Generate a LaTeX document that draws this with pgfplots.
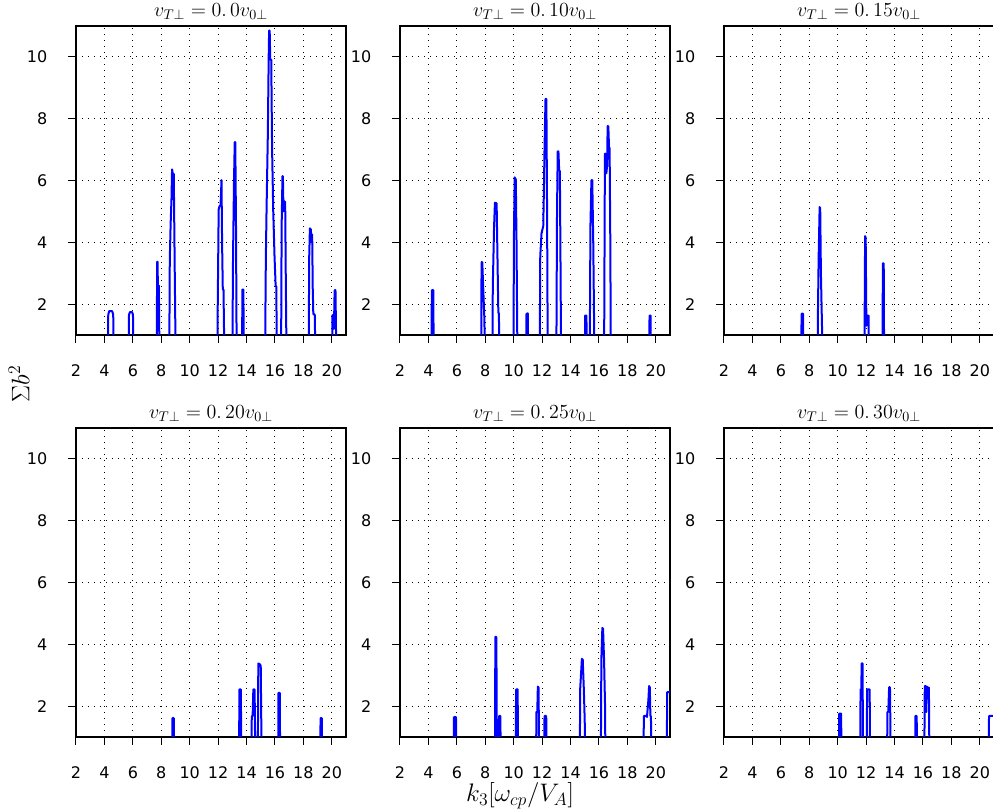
\RequirePackage{fix-cm}
\documentclass[border=0pt]{standalone}
\usepackage[no-math]{fontspec}
\setmainfont{DejaVu Sans}
\usepackage{pgfplots}
\pgfplotsset{compat=1.18}
\usepgfplotslibrary{groupplots}

\pgfplotsset{
  peak/.style={color={rgb,255:red,0;green,0;blue,255}, line width=1.5pt, line join=round, mark=none},
  every axis title/.style={at={(0.5,1)}, anchor=base, yshift=6.75pt, font=\fontsize{15}{17}\selectfont},
}

\begin{document}
\begin{tikzpicture}
\begin{groupplot}[
  group style={group name=G, group size=3 by 2,
    horizontal sep=40.5pt, vertical sep=69.75pt},
  scale only axis, width=202.5pt, height=231.75pt,
  xmin=2, xmax=21, ymin=1, ymax=11,
  xtick={2,4,...,20}, ytick={2,4,...,10},
  grid=major,
  major grid style={black, line width=0.75pt, dash pattern=on 0.75pt off 3.75pt},
  axis line style={line width=1.5pt},
  tick align=outside, tick pos=left, major tick length=6pt,
  tick style={line width=0.75pt, black},
  ticklabel style={font=\fontsize{12}{14}\selectfont},
  xticklabel style={yshift=-13pt},
  yticklabel style={xshift=-12pt},
  /pgf/number format/assume math mode=true,
  clip=true,
]
% v_T = 0.0
\nextgroupplot[title={$v_{T\perp}=0.\,0v_{0\perp}$}]
\addplot[peak] coordinates {
 (4.24,0) (4.27,1.65) (4.33,1.77) (4.55,1.77) (4.62,1.65) (4.65,0)
 (5.70,0) (5.73,1.65) (5.79,1.74) (5.95,1.74) (6.01,1.65) (6.04,0)
 (7.68,0) (7.71,3.37) (7.74,3.37) (7.77,2.3) (7.80,2.6) (7.83,2.6) (7.88,0)
 (8.56,0) (8.60,3.44) (8.66,4.6) (8.72,5.4) (8.76,6.36) (8.79,6.3) (8.81,5.4) (8.84,6.23) (8.88,6.2) (8.95,3.0) (9.02,0)
 (11.94,0) (11.97,1.72) (12.04,5.06) (12.10,5.17) (12.17,5.2) (12.20,5.5) (12.24,6.01) (12.28,4.0) (12.33,2.47) (12.38,2.47) (12.45,0)
 (13.00,0) (13.05,3.5) (13.12,6.0) (13.17,7.24) (13.21,7.24) (13.26,4.5) (13.31,0)
 (13.68,0) (13.71,2.47) (13.78,2.47) (13.81,0)
 (15.30,0) (15.36,3.5) (15.41,5.06) (15.50,7.5) (15.56,10.0) (15.59,10.85) (15.63,10.85) (15.67,9.91) (15.74,9.91) (15.80,7.0) (15.88,5.0) (15.97,3.55) (16.05,2.58) (16.10,2.58) (16.13,0)
 (16.43,0) (16.47,4.5) (16.53,6.14) (16.56,6.14) (16.60,5.0) (16.64,5.33) (16.72,5.3) (16.76,3.0) (16.82,0)
 (18.37,0) (18.41,3.5) (18.46,4.45) (18.53,4.41) (18.57,4.0) (18.62,4.25) (18.66,2.5) (18.70,1.67) (18.80,1.67) (18.86,0)
 (20.02,0) (20.05,1.64) (20.12,1.64) (20.15,1.2) (20.20,2.45) (20.26,2.45) (20.33,0)
};
% v_T = 0.10
\nextgroupplot[title={$v_{T\perp}=0.\,10v_{0\perp}$}]
\addplot[peak] coordinates {
 (4.21,0) (4.24,2.45) (4.34,2.45) (4.38,0)
 (7.71,0) (7.74,3.36) (7.79,3.36) (7.85,2.6) (7.94,1.5) (7.98,0)
 (8.50,0) (8.53,2.58) (8.62,4.5) (8.68,5.28) (8.80,5.26) (8.86,3.5) (8.92,1.72) (8.96,1.7) (9.00,0)
 (9.98,0) (10.02,4.3) (10.07,6.1) (10.15,6.03) (10.20,4.0) (10.27,0)
 (10.87,0) (10.90,1.68) (10.99,1.7) (11.03,0)
 (11.83,0) (11.87,3.55) (11.96,4.3) (12.08,4.52) (12.12,5.5) (12.17,7.0) (12.24,8.64) (12.30,8.64) (12.35,5.0) (12.40,0)
 (13.00,0) (13.05,5.0) (13.10,6.94) (13.15,6.94) (13.20,6.33) (13.25,6.3) (13.30,3.0) (13.34,0)
 (15.00,0) (15.03,1.63) (15.12,1.63) (15.15,0)
 (15.35,0) (15.40,4.5) (15.47,6.01) (15.53,6.01) (15.60,4.0) (15.69,0)
 (16.36,0) (16.42,6.87) (16.46,6.87) (16.52,6.23) (16.58,6.5) (16.61,7.76) (16.66,7.76) (16.71,7.06) (16.75,7.06) (16.80,4.0) (16.84,0)
 (19.53,0) (19.56,1.63) (19.63,1.63) (19.66,0)
};
% v_T = 0.15
\nextgroupplot[title={$v_{T\perp}=0.\,15v_{0\perp}$}]
\addplot[peak] coordinates {
 (7.43,0) (7.46,1.69) (7.56,1.69) (7.59,0)
 (8.58,0) (8.61,1.69) (8.66,3.5) (8.73,5.14) (8.77,5.1) (8.82,3.0) (8.90,1.2) (8.93,0)
 (11.88,0) (11.93,4.2) (11.97,4.15) (12.02,1.3) (12.08,1.63) (12.17,1.63) (12.21,0)
 (13.15,0) (13.18,3.32) (13.24,3.32) (13.27,0)
};
% v_T = 0.20
\nextgroupplot[title={$v_{T\perp}=0.\,20v_{0\perp}$}]
\addplot[peak] coordinates {
 (8.76,0) (8.79,1.61) (8.88,1.61) (8.91,0)
 (13.47,0) (13.50,2.54) (13.60,2.54) (13.64,0)
 (14.34,0) (14.37,1.68) (14.43,1.68) (14.48,2.54) (14.57,2.54) (14.62,0)
 (14.79,0) (14.83,3.38) (14.95,3.35) (15.00,3.3) (15.07,0)
 (16.22,0) (16.25,2.43) (16.34,2.43) (16.37,0)
 (19.18,0) (19.21,1.61) (19.30,1.61) (19.33,0)
};
% v_T = 0.25
\nextgroupplot[title={$v_{T\perp}=0.\,25v_{0\perp}$}]
\addplot[peak] coordinates {
 (5.77,0) (5.80,1.64) (5.94,1.64) (5.97,0)
 (8.68,0) (8.71,4.24) (8.78,4.24) (8.82,0.5) (8.94,0.5) (8.97,1.68) (9.06,1.68) (9.10,0)
 (10.14,0) (10.17,2.54) (10.28,2.54) (10.31,0)
 (11.57,0) (11.60,1.81) (11.66,1.8) (11.70,2.63) (11.75,2.6) (11.80,0)
 (12.14,0) (12.17,1.68) (12.29,1.68) (12.33,0)
 (14.65,0) (14.68,2.56) (14.76,3.2) (14.80,3.53) (14.86,3.5) (14.94,2.5) (15.00,1.5) (15.03,0)
 (16.13,0) (16.17,3.51) (16.24,4.53) (16.29,4.5) (16.36,3.5) (16.43,2.0) (16.46,0)
 (19.13,0) (19.16,1.68) (19.30,1.68) (19.38,1.65) (19.48,2.2) (19.53,2.65) (19.58,2.6) (19.62,1.68) (19.66,1.68) (19.69,0)
 (20.77,0) (20.80,2.45) (20.98,2.45) (21.10,2.45)
};
% v_T = 0.30
\nextgroupplot[title={$v_{T\perp}=0.\,30v_{0\perp}$}]
\addplot[peak] coordinates {
 (10.08,0) (10.11,1.76) (10.24,1.76) (10.28,0)
 (11.58,0) (11.61,2.54) (11.66,2.54) (11.69,3.38) (11.75,3.38) (11.79,0)
 (12.04,0) (12.07,2.54) (12.25,2.54) (12.29,0)
 (13.47,0) (13.50,1.81) (13.56,1.81) (13.62,2.61) (13.68,2.61) (13.74,0)
 (15.44,0) (15.47,1.68) (15.56,1.68) (15.59,0)
 (16.09,0) (16.13,2.65) (16.20,2.65) (16.24,1.81) (16.27,2.63) (16.35,2.6) (16.42,2.6) (16.46,0)
 (20.62,0) (20.65,1.68) (20.85,1.68) (21.10,1.68)
};
\end{groupplot}
% shared axis labels
\node[anchor=base, font=\fontsize{19}{21}\selectfont]
  at ([shift={(333pt,-48.5pt)}]G c1r2.south west) {$k_3[\omega_{cp}/V_A]$};
\node[rotate=90, anchor=center, font=\fontsize{19}{21}\selectfont]
  at ([shift={(-42.75pt,264.75pt)}]G c1r2.south west) {$\Sigma b^2$};
% page frame
\pgfresetboundingbox
\path (G c1r2.south west) ++(-57pt,-56.25pt) rectangle ++(744.75pt,609pt);
\end{tikzpicture}
\end{document}
